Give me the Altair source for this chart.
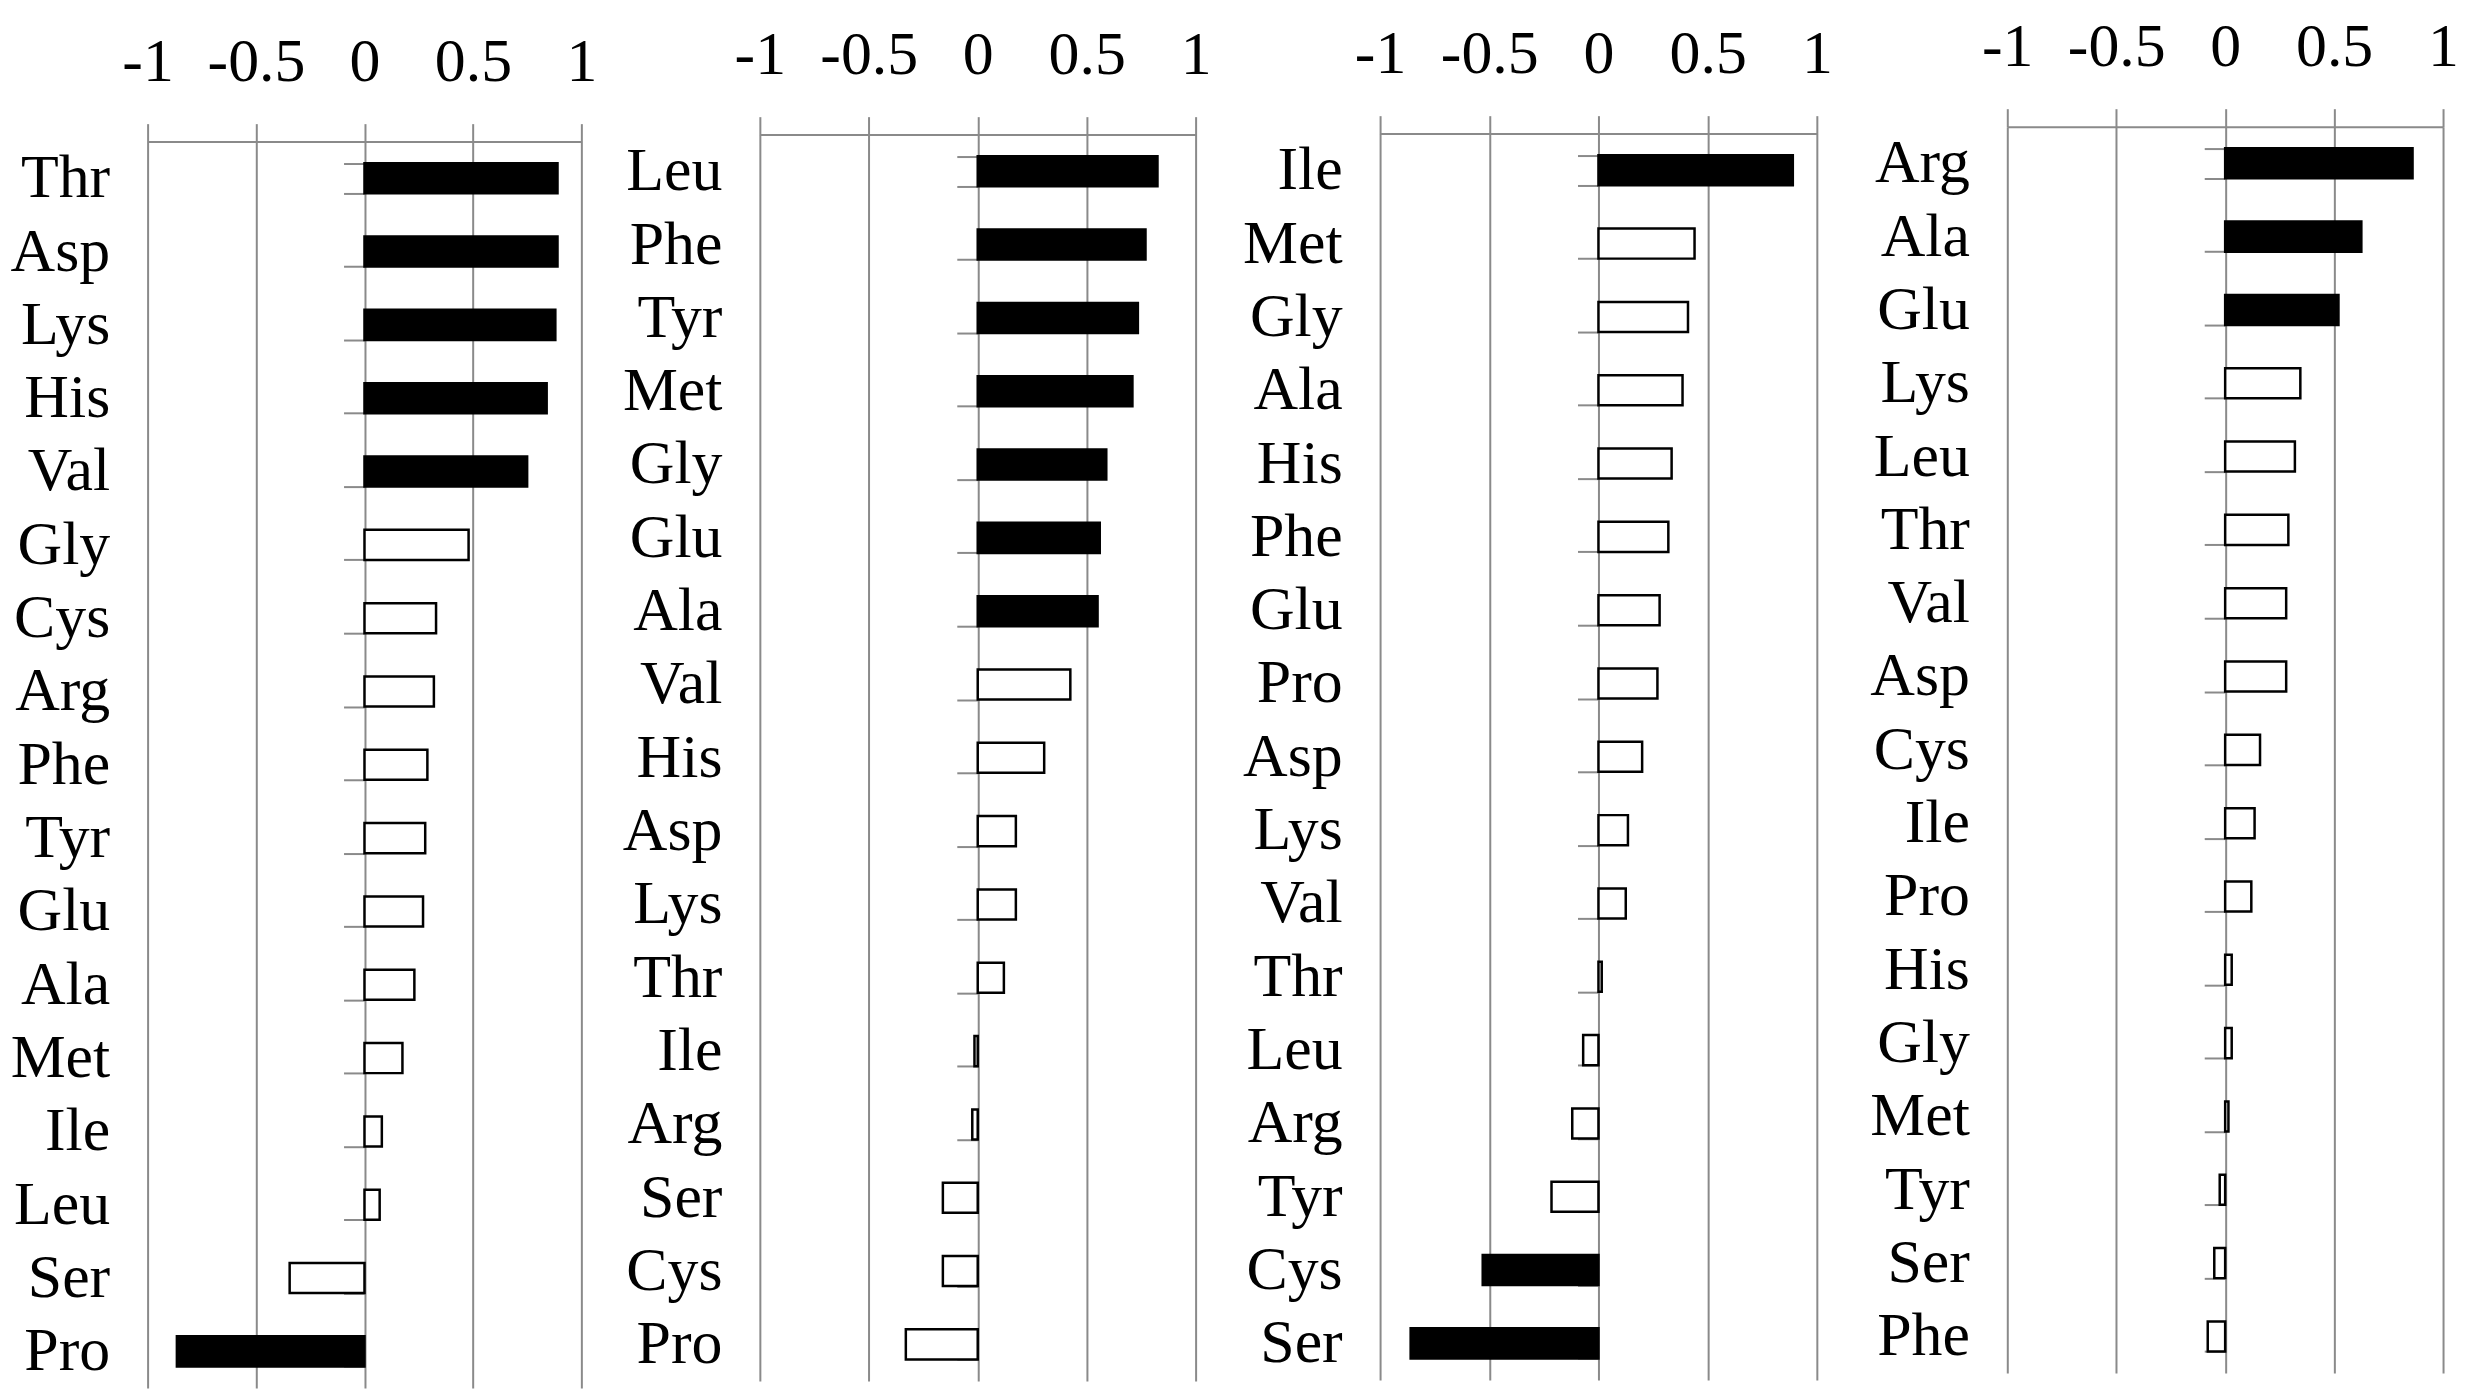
import json
import altair as alt
import pandas as pd

# ---- data ----
aa1 = ["Thr", "Asp", "Lys", "His", "Val", "Gly", "Cys", "Arg", "Phe", "Tyr", "Glu", "Ala", "Met", "Ile", "Leu", "Ser", "Pro"]
val1 = [0.89, 0.89, 0.88, 0.84, 0.75, 0.48, 0.33, 0.32, 0.29, 0.28, 0.27, 0.23, 0.175, 0.08, 0.07, -0.345, -0.865]
sig1 = ["Thr", "Asp", "Lys", "His", "Val", "Pro"]

aa2 = ["Leu", "Phe", "Tyr", "Met", "Gly", "Glu", "Ala", "Val", "His", "Asp", "Lys", "Thr", "Ile", "Arg", "Ser", "Cys", "Pro"]
val2 = [0.825, 0.77, 0.735, 0.71, 0.59, 0.56, 0.55, 0.425, 0.305, 0.175, 0.175, 0.12, -0.015, -0.025, -0.16, -0.16, -0.33]
sig2 = ["Leu", "Phe", "Tyr", "Met", "Gly", "Glu", "Ala"]

aa3 = ["Ile", "Met", "Gly", "Ala", "His", "Phe", "Glu", "Pro", "Asp", "Lys", "Val", "Thr", "Leu", "Arg", "Tyr", "Cys", "Ser"]
val3 = [0.89, 0.44, 0.41, 0.385, 0.335, 0.32, 0.28, 0.27, 0.2, 0.135, 0.125, 0.015, -0.07, -0.12, -0.215, -0.53, -0.86]
sig3 = ["Ile", "Cys", "Ser"]

aa4 = ["Arg", "Ala", "Glu", "Lys", "Leu", "Thr", "Val", "Asp", "Cys", "Ile", "Pro", "His", "Gly", "Met", "Tyr", "Ser", "Phe"]
val4 = [0.86, 0.625, 0.52, 0.345, 0.32, 0.29, 0.28, 0.28, 0.16, 0.135, 0.12, 0.03, 0.03, 0.015, -0.025, -0.05, -0.08]
sig4 = ["Arg", "Ala", "Glu"]

x_ticks = [-1, -0.5, 0, 0.5, 1]
x_tick_labels = ["-1", "-0.5", "0", "0.5", "1"]

# ---- styling ----
FONT = "Liberation Serif"
FS = 62
GRAY = "#8a8a8a"
BAND_H = 1250

label_expr = f"{json.dumps(x_tick_labels)}[indexof({json.dumps(x_ticks)}, datum.value)]"


def panel(aa, vals, sig, W, d, E):
    df = pd.DataFrame({
        "aa": aa,
        "value": vals,
        "sig": ["yes" if a in sig else "no" for a in aa],
    })
    yscale = alt.Scale(domain=aa, range=[d, d + BAND_H], paddingInner=0.59, paddingOuter=0.295)
    base = alt.Chart(df)
    bars = base.mark_bar(stroke="black", strokeWidth=2.5).encode(
        x=alt.X(
            "value:Q",
            scale=alt.Scale(domain=[-1, 1], nice=False, zero=False),
            axis=alt.Axis(
                orient="top", values=x_ticks, labelExpr=label_expr, offset=-d,
                title=None, domain=True, domainColor=GRAY, domainWidth=2,
                ticks=True, tickColor=GRAY, tickWidth=2, tickSize=18,
                grid=True, gridColor=GRAY, gridWidth=2,
                labelFont=FONT, labelFontSize=FS, labelColor="black",
                labelPadding=30, labelFlush=False, labelOverlap=False,
            ),
        ),
        x2=alt.datum(0),
        y=alt.Y(
            "aa:N", sort=aa, scale=yscale,
            axis=alt.Axis(
                orient="left", title=None, domain=False, ticks=False, grid=False,
                labelFont=FONT, labelFontSize=FS, labelColor="black",
                labelPadding=38, minExtent=E, labelLimit=400,
            ),
        ),
        fill=alt.Fill("sig:N", scale=alt.Scale(domain=["yes", "no"], range=["black", "white"]), legend=None),
    )
    zero_ticks = base.mark_point(opacity=0).encode(
        y=alt.Y(
            "aa:N", sort=aa,
            axis=alt.Axis(
                orient="left", offset=-W / 2, title=None, labels=False, domain=False,
                grid=False, ticks=True, tickBand="extent", tickSize=21,
                tickColor=GRAY, tickWidth=2, minExtent=0,
            ),
        ),
    )
    return alt.layer(bars, zero_ticks).resolve_axis(y="independent").properties(
        width=W, height=d + BAND_H
    )


p1 = panel(aa1, val1, sig1, 435, 15, 140)
p2 = panel(aa2, val2, sig2, 437, 8, 140)
p3 = panel(aa3, val3, sig3, 438, 7, 146)
p4 = panel(aa4, val4, sig4, 437, 0, 152)

chart = alt.concat(p1, p2, p3, p4, columns=4, spacing=23, align="each").properties(
    padding={"left": 0, "top": 6, "right": 0, "bottom": 0},
    background="white",
).configure_view(strokeWidth=0)

chart.save("out.html", embed_options={"renderer": "svg", "actions": False})
